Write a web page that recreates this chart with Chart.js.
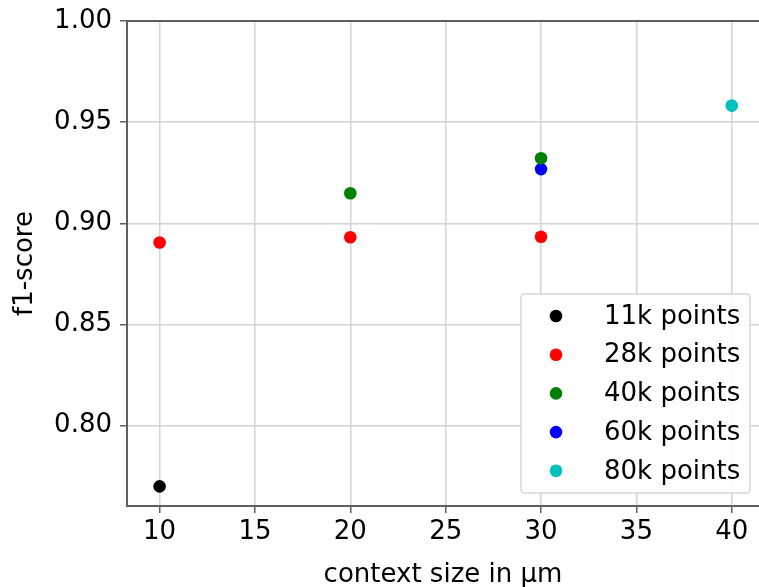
<!DOCTYPE html>
<html>
<head>
<meta charset="utf-8">
<script src="https://cdn.jsdelivr.net/npm/chart.js@4"></script>
<style>
  html, body { margin: 0; padding: 0; background: #fff; }
  #wrap { width: 759px; height: 587px; }
</style>
</head>
<body>
<div id="wrap"><canvas id="c" width="759" height="587"></canvas></div>
<script>
// ---- data ----
const seriesLabels = ['11k points', '28k points', '40k points', '60k points', '80k points'];
const seriesColors = ['#000000', '#ff0000', '#008000', '#0000ff', '#00bfbf'];
const ctx11k = [10];          const f1_11k = [0.770];
const ctx28k = [10, 20, 30];  const f1_28k = [0.8905, 0.8931, 0.8934];
const ctx40k = [20, 30];      const f1_40k = [0.9149, 0.9322];
const ctx60k = [30];          const f1_60k = [0.9268];
const ctx80k = [40];          const f1_80k = [0.9582];
const xTicks = [10, 15, 20, 25, 30, 35, 40];
const yTicks = [0.80, 0.85, 0.90, 0.95, 1.00];

const seriesX = [ctx11k, ctx28k, ctx40k, ctx60k, ctx80k];
const seriesY = [f1_11k, f1_28k, f1_40k, f1_60k, f1_80k];

const datasets = seriesLabels.map((lab, i) => ({
  label: lab,
  data: seriesX[i].map((x, j) => ({ x: x, y: seriesY[i][j] })),
  backgroundColor: seriesColors[i],
  borderColor: seriesColors[i],
  pointRadius: 6.3,
  pointHoverRadius: 6.3,
  borderWidth: 0,
  showLine: false
}));

const FONT = '"DejaVu Sans", sans-serif';
const SPINE = '#5f5f5f';
const GRID = '#d4d4d4';

const frameAndLegend = {
  id: 'frameAndLegend',
  beforeDatasetsDraw(chart) {
    const { ctx, chartArea: a } = chart;
    ctx.save();
    ctx.strokeStyle = SPINE;
    ctx.lineWidth = 2;
    ctx.beginPath();
    ctx.moveTo(a.left - 1, a.top);
    ctx.lineTo(a.right, a.top);
    ctx.stroke();
    ctx.restore();
  },
  afterDatasetsDraw(chart) {
    const { ctx, chartArea: a } = chart;
    const bx = a.left + 394, by = a.top + 273, bw = 229, bh = 199, r = 4;
    ctx.save();
    ctx.beginPath();
    ctx.moveTo(bx + r, by);
    ctx.lineTo(bx + bw - r, by);
    ctx.quadraticCurveTo(bx + bw, by, bx + bw, by + r);
    ctx.lineTo(bx + bw, by + bh - r);
    ctx.quadraticCurveTo(bx + bw, by + bh, bx + bw - r, by + bh);
    ctx.lineTo(bx + r, by + bh);
    ctx.quadraticCurveTo(bx, by + bh, bx, by + bh - r);
    ctx.lineTo(bx, by + r);
    ctx.quadraticCurveTo(bx, by, bx + r, by);
    ctx.closePath();
    ctx.fillStyle = 'rgba(255,255,255,0.92)';
    ctx.fill();
    ctx.strokeStyle = '#d6d6d6';
    ctx.lineWidth = 1.5;
    ctx.stroke();
    ctx.font = '26px ' + FONT;
    ctx.textBaseline = 'middle';
    ctx.textAlign = 'left';
    chart.data.datasets.forEach((ds, i) => {
      const cy = by + 22 + i * 38.7;
      ctx.beginPath();
      ctx.arc(bx + 35, cy, 6.3, 0, Math.PI * 2);
      ctx.fillStyle = ds.backgroundColor;
      ctx.fill();
      ctx.fillStyle = '#000';
      ctx.fillText(ds.label, bx + 83, cy + 1);
    });
    ctx.restore();
  }
};

new Chart(document.getElementById('c'), {
  type: 'scatter',
  data: { datasets: datasets },
  plugins: [frameAndLegend],
  options: {
    responsive: false,
    animation: false,
    devicePixelRatio: 1,
    layout: { autoPadding: false, padding: { top: 21, right: 0, left: 0, bottom: 0 } },
    plugins: { legend: { display: false }, tooltip: { enabled: false } },
    scales: {
      x: {
        type: 'linear',
        min: 8.29,
        max: 41.43,
        afterBuildTicks(scale) { scale.ticks = xTicks.map(v => ({ value: v })); },
        afterFit(scale) { scale.height = 81; scale.paddingLeft = 0; scale.paddingRight = 0; },
        ticks: {
          font: { family: FONT, size: 26 },
          color: '#000',
          padding: 4,
          maxRotation: 0,
          callback: v => String(v)
        },
        grid: { color: GRID, lineWidth: 1.5, tickColor: SPINE, tickLength: 7, tickWidth: 1.5 },
        border: { color: SPINE, width: 2 },
        title: {
          display: true,
          text: 'context size in µm',
          font: { family: FONT, size: 26 },
          color: '#000',
          padding: { top: 0, bottom: -4 }
        }
      },
      y: {
        type: 'linear',
        min: 0.7603,
        max: 1.0,
        afterBuildTicks(scale) { scale.ticks = yTicks.map(v => ({ value: v })); },
        afterFit(scale) { scale.width = 127; scale.paddingTop = 0; scale.paddingBottom = 0; },
        ticks: {
          font: { family: FONT, size: 26 },
          color: '#000',
          padding: 8,
          callback: v => Number(v).toFixed(2)
        },
        grid: { color: GRID, lineWidth: 1.5, tickColor: SPINE, tickLength: 7, tickWidth: 1.5 },
        border: { color: SPINE, width: 2 },
        title: {
          display: true,
          text: 'f1-score',
          font: { family: FONT, size: 26 },
          color: '#000',
          padding: { top: 10, bottom: 0 }
        }
      }
    }
  }
});
</script>
</body>
</html>
